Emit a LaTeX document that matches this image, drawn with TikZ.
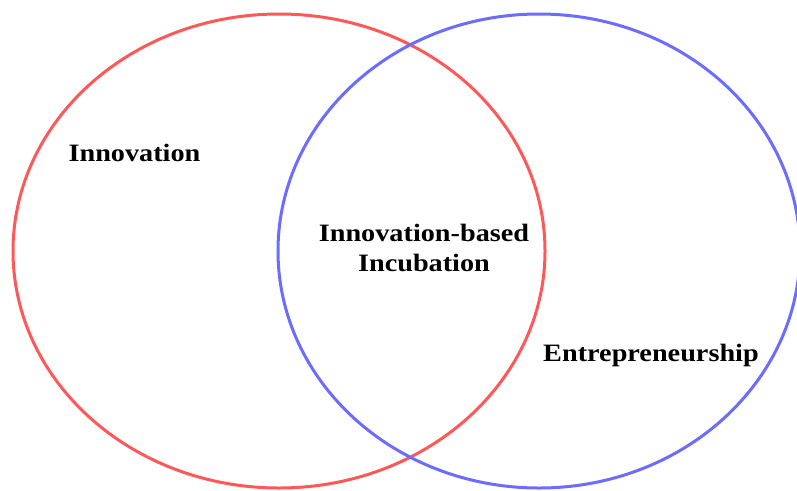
\documentclass[tikz,border=0pt]{standalone}
\usepackage{fontspec}
\setmainfont{Liberation Serif}
\newfontfamily\vennfont[FakeStretch=1.13]{Liberation Serif}
\usetikzlibrary{
	shapes.geometric,
	positioning,
	}
\definecolor{innovred}{RGB}{255,88,88}
\definecolor{entreblue}{RGB}{108,108,255}

\begin{document}
\begin{tikzpicture}[x=1pt, y=-1pt,
		venn/.style={draw, ellipse, line width=3pt, inner sep=0pt},
		vennlabel/.style={font=\fontsize{25}{30}\selectfont\vennfont\bfseries, inner sep=0pt, align=center}]
			\useasboundingbox (0,0) rectangle (797,490);

			\node[venn, draw=innovred, minimum width=532pt, minimum height=474pt] (innov) at (279,251) {};
			\node[venn, draw=entreblue, minimum width=522pt, minimum height=474pt] (entre) at (539,251) {};

			\node[vennlabel, anchor=base] (innovtext) at (134.5,161) {Innovation};
			\node[vennlabel] (incubtext) at (424,247.5) {Innovation-based\\Incubation};
			\node[vennlabel, anchor=base] (entretext) at (651,361) {Entrepreneurship};

		\end{tikzpicture}
\end{document}
